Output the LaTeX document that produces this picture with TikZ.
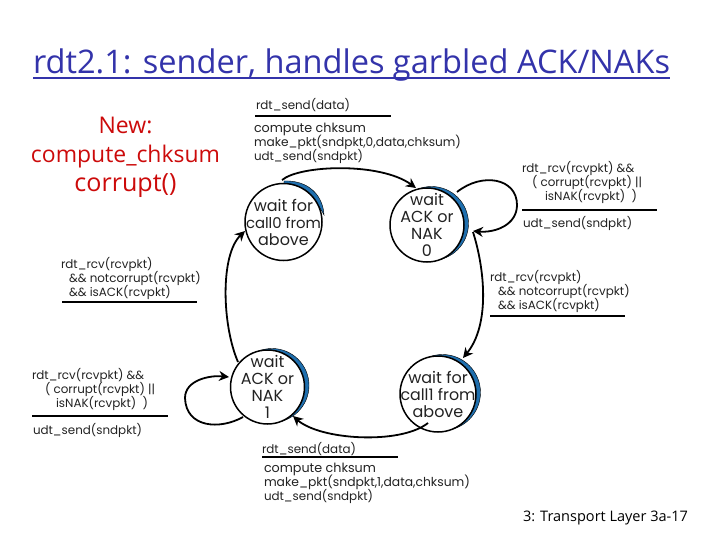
\documentclass[tikz,border=0pt]{standalone}
\usepackage{fontspec}
\setmainfont{Open Sans}
\newfontfamily\figfont{Poppins}
\usetikzlibrary{arrows.meta}
\definecolor{titleblue}{HTML}{3333AA}
\definecolor{newred}{HTML}{CC0A0A}
\definecolor{crescent}{HTML}{1F6FAE}
\definecolor{inkgray}{HTML}{222222}
\tikzset{
  every node/.style={inner sep=0pt,outer sep=0pt},
  flabel/.style={anchor=base west,font=\figfont\fontsize{11.9}{14}\selectfont,text=inkgray},
  statetext/.style={align=center,font=\figfont\fontsize{16}{17}\selectfont,text=inkgray},
  fsm/.style={circle,draw=black,line width=1.5pt,fill=white,minimum size=#1},
  fsmedge/.style={draw=black,line width=1.8pt,-{Stealth[length=10pt,width=10pt]}},
  rulebar/.style={draw=black,line width=1.6pt},
  moon/.style={fill=crescent,draw=black,line width=0.4pt},
  newtext/.style={font=\fontsize{23}{29}\selectfont,text=newred},
}
\begin{document}
\begin{tikzpicture}[x=1pt,y=-1pt]
\useasboundingbox (0,0) rectangle (720,540);
% title
\node[anchor=base west,text=titleblue] (title) at (33,74) {\resizebox{637pt}{!}{\fontsize{30}{34}\selectfont rdt2.1: sender, handles garbled ACK/NAKs}};
\coordinate (tulA) at (33,78); \coordinate (tulB) at (670,78);
\draw[titleblue,line width=1.6pt] (tulA) -- (tulB);
% new text
\node[newtext,anchor=base] (new1) at (125.5,134) {New:};
\node[newtext,anchor=base] (new2) at (125.5,163) {\resizebox{189pt}{!}{compute\_chksum}};
\node[newtext,anchor=base] (new3) at (125.5,192) {\resizebox{102pt}{!}{corrupt()}};
% crescents
\fill[moon] (284,181) .. controls (308,180) and (323,195) .. (324,215) .. controls (315,198) and (303,186) .. (284,184) -- cycle;
\fill[moon] (431.5,223.5) circle[radius=37pt];
\fill[moon] (272,385.5) circle[radius=37pt];
\fill[moon] (442.5,392.5) circle[radius=38pt];
% states
\node[fsm=77pt] (s0) at (283.5,222) {};
\node[fsm=74pt] (s1) at (427,225) {};
\node[fsm=74pt] (s3) at (267.5,387) {};
\node[fsm=76pt] (s2) at (438,394) {};
\node[statetext] (s0t) at (s0) {wait for\\\resizebox{75pt}{!}{call0 from}\\above};
\node[statetext] (s1t) at (s1) {wait\\ACK or\\NAK\\0};
\node[statetext] (s3t) at (s3) {wait\\ACK or\\NAK\\1};
\node[statetext] (s2t) at (s2) {wait for\\\resizebox{75pt}{!}{call1 from}\\above};
% edges
\coordinate (e01a) at (282,180); \coordinate (e01b) at (416,188);
\draw[fsmedge] (e01a) .. controls (300,165) and (380,162) .. (e01b);
\coordinate (l1a) at (457,192); \coordinate (l1b) at (473,231);
\draw[fsmedge] (l1a) .. controls (482,172) and (517,178) .. (517,205) .. controls (517,225) and (495,233) .. (l1b);
\coordinate (e12a) at (473,232); \coordinate (e12b) at (463,358);
\draw[fsmedge] (e12a) .. controls (485,270) and (490,325) .. (e12b);
\coordinate (e23a) at (428,423); \coordinate (e23b) at (293,416);
\draw[fsmedge] (e23a) .. controls (400,445) and (320,440) .. (e23b);
\coordinate (e30a) at (238,362); \coordinate (e30b) at (245,231);
\draw[fsmedge] (e30a) .. controls (222,325) and (220,255) .. (e30b);
\coordinate (l3a) at (243,417); \coordinate (l3b) at (229,377);
\draw[fsmedge] (l3a) .. controls (220,430) and (186,428) .. (185,398) .. controls (185,380) and (210,375) .. (l3b);
% labels top
\node[flabel] (a1) at (256,110) {rdt\_send(data)};
\coordinate (ar1) at (255,116); \coordinate (ar2) at (391,116);
\draw[rulebar] (ar1) -- (ar2);
\node[flabel] (a2) at (254,133) {\resizebox{112pt}{!}{compute chksum}};
\node[flabel] (a3) at (254,147) {\resizebox{207pt}{!}{make\_pkt(sndpkt,0,data,chksum)}};
\node[flabel] (a4) at (254,161) {udt\_send(sndpkt)};
% right top
\node[flabel] (b1) at (522,173) {rdt\_rcv(rcvpkt) \&\&};
\node[flabel] (b2) at (532,187) {( corrupt(rcvpkt) ||};
\node[flabel] (b3) at (545,201) {isNAK(rcvpkt) \ )};
\coordinate (br1) at (522,210); \coordinate (br2) at (657,210);
\draw[rulebar] (br1) -- (br2);
\node[flabel] (b4) at (523,228) {udt\_send(sndpkt)};
% right mid
\node[flabel] (c1) at (490,281) {rdt\_rcv(rcvpkt)};
\node[flabel] (c2) at (498,295) {\&\& notcorrupt(rcvpkt)};
\node[flabel] (c3) at (498,309) {\&\& isACK(rcvpkt)};
\coordinate (cr1) at (490,316); \coordinate (cr2) at (625,316);
\draw[rulebar] (cr1) -- (cr2);
% left mid
\node[flabel] (d1) at (61,268) {rdt\_rcv(rcvpkt)};
\node[flabel] (d2) at (69,282) {\&\& notcorrupt(rcvpkt)};
\node[flabel] (d3) at (69,296) {\&\& isACK(rcvpkt)};
\coordinate (dr1) at (62,302); \coordinate (dr2) at (197,302);
\draw[rulebar] (dr1) -- (dr2);
% left low
\node[flabel] (f1) at (32,379) {rdt\_rcv(rcvpkt) \&\&};
\node[flabel] (f2) at (45,393) {( corrupt(rcvpkt) ||};
\node[flabel] (f3) at (56,407) {isNAK(rcvpkt) \ )};
\coordinate (fr1) at (32,416); \coordinate (fr2) at (168,416);
\draw[rulebar] (fr1) -- (fr2);
\node[flabel] (f4) at (33,434) {udt\_send(sndpkt)};
% bottom
\node[flabel] (g1) at (262,453) {rdt\_send(data)};
\coordinate (gr1) at (262,457); \coordinate (gr2) at (398,457);
\draw[rulebar] (gr1) -- (gr2);
\node[flabel] (g2) at (264,472) {\resizebox{112pt}{!}{compute chksum}};
\node[flabel] (g3) at (264,486) {\resizebox{206pt}{!}{make\_pkt(sndpkt,1,data,chksum)}};
\node[flabel] (g4) at (264,500) {udt\_send(sndpkt)};
% footer
\node[anchor=base west,font=\fontsize{13.5}{15}\selectfont] (foot) at (523,521) {\resizebox{165pt}{!}{3: Transport Layer 3a-17}};
\end{tikzpicture}
\end{document}
